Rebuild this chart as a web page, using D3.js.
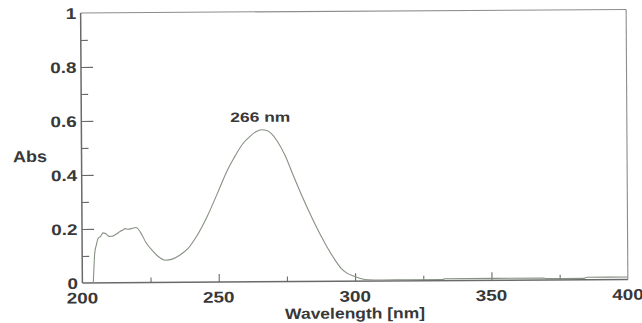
<!DOCTYPE html>
<html>
<head>
<meta charset="utf-8">
<script src="https://cdn.jsdelivr.net/npm/d3@7"></script>
<style>
  html, body { margin: 0; padding: 0; background: #fff; }
  svg { display: block; }
  text { font-family: "Liberation Sans", Arial, sans-serif; font-weight: bold; fill: #383838; }
</style>
</head>
<body>
<svg id="chart" width="642" height="323"></svg>
<script>
// UV absorption spectrum: wavelength (nm) and absorbance
const wavelengths = [204.0, 204.3, 204.6, 205.2, 205.9, 206.8, 207.7, 208.6, 209.9, 211.0,
  211.7, 213.0, 213.9, 215.0, 215.8, 217.0, 218.0, 219.8, 221.5, 223.4,
  226, 228, 230.5, 233, 236, 239, 242, 246, 250, 253,
  255.7, 259, 261.9, 264, 266, 268, 270, 271.8, 274.5, 277.7,
  281, 283.9, 287, 290.1, 292.5, 294.9, 297, 299.6, 302, 304.7,
  310, 320, 332, 333, 369, 370, 384, 385, 400];
const absorbance = [0.000, 0.06, 0.11, 0.14, 0.165, 0.172, 0.185, 0.183, 0.172, 0.172,
  0.175, 0.183, 0.19, 0.195, 0.2, 0.198, 0.2, 0.204, 0.185, 0.148,
  0.115, 0.095, 0.082, 0.086, 0.102, 0.127, 0.17, 0.245, 0.335, 0.405,
  0.456, 0.51, 0.54, 0.556, 0.563, 0.56, 0.545, 0.52, 0.47, 0.39,
  0.31, 0.245, 0.18, 0.122, 0.082, 0.048, 0.03, 0.018, 0.01, 0.005,
  0.004, 0.004, 0.004, 0.007, 0.007, 0.005, 0.005, 0.009, 0.009];

const xMajorTicks = [200, 250, 300, 350, 400];
const xMinorTicks = [225, 275, 325, 375];
const yMajorTicks = [0, 0.2, 0.4, 0.6, 0.8, 1];
const yTickLabels = ["0", "0.2", "0.4", "0.6", "0.8", "1"];
const yMinorTicks = [0.1, 0.3, 0.5, 0.7, 0.9];
const peakNm = 266;
const peakLabel = "266 nm";
const xTitle = "Wavelength [nm]";
const yTitle = "Abs";

const svg = d3.select("#chart");
// whole sheet sits at a slight tilt
const g = svg.append("g").attr("transform", "rotate(-0.37, 352, 147)");

const x = d3.scaleLinear().domain([200, 400]).range([81.5, 627]);
const y = d3.scaleLinear().domain([0, 1]).range([281.2, 11.2]);

const frameColor = "#6a6a6a";

// widen bold labels the way the instrument printout does
function widen(sel, factor) {
  sel.each(function () {
    const w = this.getComputedTextLength();
    d3.select(this).attr("textLength", w * factor).attr("lengthAdjust", "spacingAndGlyphs");
  });
}

// Inward ticks on the bottom axis
const xAxisMajor = d3.axisBottom(x).tickValues(xMajorTicks.slice(1, -1)).tickSize(-8).tickFormat("");
const xAxisMinor = d3.axisBottom(x).tickValues(xMinorTicks).tickSize(-5).tickFormat("");
[xAxisMajor, xAxisMinor].forEach(ax => {
  const a = g.append("g").attr("transform", `translate(0,${y(0)})`).call(ax);
  a.select(".domain").remove();
  a.selectAll("line").attr("stroke", frameColor).attr("stroke-width", 1.1);
});

// Inward ticks on the left axis
const yAxisMajor = d3.axisLeft(y).tickValues(yMajorTicks.slice(1, -1)).tickSize(-12).tickFormat("");
const yAxisMinor = d3.axisLeft(y).tickValues(yMinorTicks).tickSize(-7).tickFormat("");
[yAxisMajor, yAxisMinor].forEach(ax => {
  const a = g.append("g").attr("transform", `translate(${x(200)},0)`).call(ax);
  a.select(".domain").remove();
  a.selectAll("line").attr("stroke", frameColor).attr("stroke-width", 1.1);
});

// Plot frame
g.append("line").attr("x1", x(200)).attr("x2", x(400)).attr("y1", y(1)).attr("y2", y(1))
  .attr("stroke", "#8c8c8c").attr("stroke-width", 1.1);
g.append("line").attr("x1", x(400)).attr("x2", x(400)).attr("y1", y(1)).attr("y2", y(0))
  .attr("stroke", "#8c8c8c").attr("stroke-width", 1.1);
g.append("line").attr("x1", x(200)).attr("x2", x(200)).attr("y1", y(1)).attr("y2", y(0))
  .attr("stroke", frameColor).attr("stroke-width", 1.5);
g.append("line").attr("x1", x(200)).attr("x2", x(400)).attr("y1", y(0)).attr("y2", y(0))
  .attr("stroke", frameColor).attr("stroke-width", 1.5);

// Tick labels
g.selectAll(".xl").data(xMajorTicks).enter().append("text")
  .attr("class", "xl")
  .attr("x", d => x(d)).attr("y", y(0) + 20.5)
  .attr("text-anchor", "middle").attr("font-size", 15.5)
  .text(d => d)
  .call(widen, 1.22);

g.selectAll(".yl").data(yMajorTicks).enter().append("text")
  .attr("class", "yl")
  .attr("x", x(200) - 4.5).attr("y", d => y(d) + 6)
  .attr("text-anchor", "end").attr("font-size", 15.5)
  .text((d, i) => yTickLabels[i])
  .call(widen, 1.22);

// Axis titles
g.append("text").attr("x", 354).attr("y", 318.5).attr("text-anchor", "middle")
  .attr("font-size", 15).attr("textLength", 140).attr("lengthAdjust", "spacingAndGlyphs")
  .text(xTitle);
g.append("text").attr("x", 13).attr("y", 160).attr("font-size", 16)
  .attr("textLength", 34).attr("lengthAdjust", "spacingAndGlyphs")
  .text(yTitle);

// Spectrum trace
const pts = wavelengths.map((w, i) => [w, absorbance[i]]);
const line = d3.line().x(d => x(d[0])).y(d => y(d[1])).curve(d3.curveMonotoneX);
g.append("path").datum(pts).attr("d", line)
  .attr("fill", "none").attr("stroke", "#869183").attr("stroke-width", 1.1);

// Peak annotation
const peakA = absorbance[wavelengths.indexOf(peakNm)];
g.append("text").attr("x", x(peakNm) - 1).attr("y", y(peakA) - 8)
  .attr("text-anchor", "middle").attr("font-size", 13.5)
  .attr("textLength", 60).attr("lengthAdjust", "spacingAndGlyphs")
  .text(peakLabel);
</script>
</body>
</html>
